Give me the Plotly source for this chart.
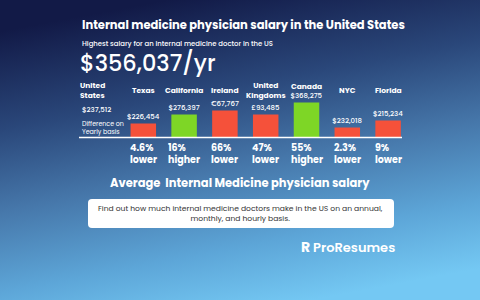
import base64
import plotly.graph_objects as go

# ---------------- data ----------------
regions = ["Texas", "California", "Ireland", "United<br>Kingdoms", "Canada", "NYC", "Florida"]
salaries = [226454, 276397, 67767, 93485, 368275, 232018, 215234]
currencies = ["$", "$", "€", "£", "$", "$", "$"]
bar_levels = [14, 23, 27, 23, 35, 10, 17]          # bar heights as drawn in the infographic
diff_pct = ["4.6%", "16%", "66%", "47%", "55%", "2.3%", "9%"]
diff_dir = ["lower", "higher", "lower", "lower", "higher", "lower", "lower"]
us_salary = 237512
top_salary = 356037

W, H = 480, 300
FONT = "Poppins, Inter, sans-serif"
RED = "#f5513a"
GREEN = "#7ed626"
BASE = 137.6


def px(x):
    return x / W


def py(y):
    return 1 - y / H


salary_labels = [f"{c}{v:,}" for c, v in zip(currencies, salaries)]
bar_colors = [GREEN if d == "higher" else RED for d in diff_dir]

fig = go.Figure()
fig.add_trace(go.Bar(
    x=regions, y=bar_levels,
    marker=dict(color=bar_colors, line=dict(width=0)),
    text=salary_labels, textposition="outside", constraintext="none",
    textfont=dict(family=FONT, size=7, color="white", weight=500),
    cliponaxis=False, hoverinfo="skip",
))

# background gradient (SVG data uri)
svg = (
    f'<svg xmlns="http://www.w3.org/2000/svg" width="{W}" height="{H}" preserveAspectRatio="none">'
    '<defs><linearGradient id="g" x1="0.35" y1="0" x2="0.65" y2="1">'
    '<stop offset="0" stop-color="#121a47"/>'
    '<stop offset="0.3" stop-color="#2a477a"/>'
    '<stop offset="0.55" stop-color="#4677aa"/>'
    '<stop offset="0.8" stop-color="#5da6d8"/>'
    '<stop offset="1" stop-color="#74c8f3"/>'
    '</linearGradient></defs>'
    f'<rect width="{W}" height="{H}" fill="url(#g)"/></svg>'
)
src = "data:image/svg+xml;base64," + base64.b64encode(svg.encode()).decode()

annotations = []


def ann(text, x, y, size, bold=False, color="white", xanchor="left", yanchor="middle",
        align="left", xref="paper", weight=None):
    font = dict(family=FONT, size=size, color=color)
    if weight:
        font["weight"] = weight
    annotations.append(dict(
        text=f"<b>{text}</b>" if bold else text,
        x=x, y=y, xref=xref, yref="paper", xanchor=xanchor, yanchor=yanchor,
        align=align, showarrow=False, font=font,
    ))


ann("Internal medicine physician salary in the United States", px(80), py(25), 11.5, bold=True)
ann("Highest salary for an internal medicine doctor in the US", px(80), py(43.5), 6.9, weight=500)
ann(f"${top_salary:,}/yr", px(78), py(62.5), 22.5, weight=500)

ann("United<br>States", px(78), py(90.5), 7.5, bold=True)
ann(f"${us_salary:,}", px(79.5), py(109.5), 7, weight=500)
ann("Difference on<br>Yearly basis", px(79.5), py(127), 6.3)

for r, lvl, p, d in zip(regions, bar_levels, diff_pct, diff_dir):
    name_y = min(90, BASE - lvl - 16)
    ann(r, r, py(name_y), 7.5, bold=True, xanchor="center", align="center", xref="x")
    ann(f"{p}<br>{d}", r, py(138.5), 9.5, bold=True, xanchor="center", yanchor="top", xref="x")

ann("Average  Internal Medicine physician salary", px(240), py(183), 11.5, bold=True,
    xanchor="center", align="center")
ann("Find out how much internal medicine doctors make in the US on an annual,<br>"
    "monthly, and hourly basis.", px(240), py(213.5), 7.6, color="#333333",
    xanchor="center", align="center")
ann("<b>R</b>", px(299), py(246.5), 14)
ann("ProResumes", px(311), py(247), 13, weight=600)

# rounded white box
x0, x1, y0, y1, r = 88, 394, 199, 228, 4
box = (f"M {px(x0 + r)} {py(y0)} L {px(x1 - r)} {py(y0)} Q {px(x1)} {py(y0)} {px(x1)} {py(y0 + r)} "
       f"L {px(x1)} {py(y1 - r)} Q {px(x1)} {py(y1)} {px(x1 - r)} {py(y1)} "
       f"L {px(x0 + r)} {py(y1)} Q {px(x0)} {py(y1)} {px(x0)} {py(y1 - r)} "
       f"L {px(x0)} {py(y0 + r)} Q {px(x0)} {py(y0)} {px(x0 + r)} {py(y0)} Z")

shapes = [
    dict(type="path", xref="paper", yref="paper", path=box, fillcolor="white",
         line=dict(width=0), layer="above"),
    dict(type="line", xref="paper", yref="paper", x0=px(79), x1=px(402), y0=py(BASE), y1=py(BASE),
         line=dict(color="white", width=1.5), layer="above"),
]

fig.update_layout(
    width=W, height=H, margin=dict(l=0, r=0, t=0, b=0),
    paper_bgcolor="#3a659a", plot_bgcolor="rgba(0,0,0,0)",
    showlegend=False, bargap=0.375,
    xaxis=dict(domain=[px(122.9), px(408.5)], range=[-0.5, 6.5], visible=False, fixedrange=True),
    yaxis=dict(domain=[py(BASE), py(BASE - 50)], range=[0, 50], visible=False, fixedrange=True),
    images=[dict(source=src, xref="paper", yref="paper", x=0, y=1, sizex=1, sizey=1,
                 sizing="stretch", layer="below", xanchor="left", yanchor="top")],
    annotations=annotations, shapes=shapes,
)

fig.write_html("out.html", config={"displayModeBar": False})
